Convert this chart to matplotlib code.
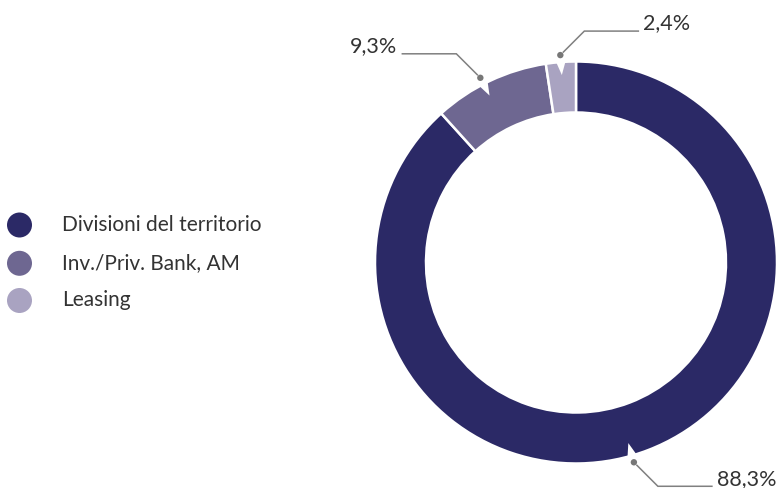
import numpy as np
import matplotlib
matplotlib.use("Agg")
import matplotlib.pyplot as plt
from matplotlib.patches import Circle, Polygon

# Segment data
categories = ["Divisioni del territorio", "Inv./Priv. Bank, AM", "Leasing"]
shares = [88.3, 9.3, 2.4]
value_labels = ["88,3%", "9,3%", "2,4%"]
colors = ["#2b2966", "#6e6791", "#a9a3c1"]

W, H = 783, 488
fig = plt.figure(figsize=(W / 100, H / 100), dpi=100)
ax = fig.add_axes([0, 0, 1, 1])

plt.rcParams["font.family"] = ["Lato", "DejaVu Sans"]
text_color = "#333333"
line_color = "#808080"

cx, cy = 576, H - 262.5
R, ring = 201, 51

wedges, _ = ax.pie(shares, colors=colors, startangle=90, counterclock=False,
                   center=(cx, cy), radius=R, frame=True,
                   wedgeprops=dict(width=ring, edgecolor="white", linewidth=1.8))
ax.set_xlim(0, W)
ax.set_ylim(0, H)
ax.set_aspect("equal")
ax.axis("off")

# angular offsets for the label pointers and the direction of their leaders
angle_shift = [-4.9, 2.0, 0.0]
leader_dir = [(1, -1), (-1, 1), (1, 1)]
diag, horiz, pad = 24, 54, 5

total = sum(shares)
start = 90.0
for i, s in enumerate(shares):
    span = 360.0 * s / total
    mid = np.deg2rad(start - span / 2 + angle_shift[i])
    start -= span
    # white notch at the outer edge
    da = np.deg2rad(1.4)
    pts = [(cx + (R + 1) * np.cos(mid - da), cy + (R + 1) * np.sin(mid - da)),
           (cx + (R + 1) * np.cos(mid + da), cy + (R + 1) * np.sin(mid + da)),
           (cx + (R - 13) * np.cos(mid), cy + (R - 13) * np.sin(mid))]
    ax.add_patch(Polygon(pts, closed=True, facecolor="white", edgecolor="none", zorder=3))
    # pointer dot and leader line
    dx, dy = cx + 208 * np.cos(mid), cy + 208 * np.sin(mid)
    ax.add_patch(Circle((dx, dy), 3.2, facecolor="#777777", edgecolor="none", zorder=4))
    sx, sy = leader_dir[i]
    ex, ey = dx + sx * diag, dy + sy * diag
    hx = ex + sx * horiz
    ax.plot([dx + sx * 3, ex, hx], [dy + sy * 3, ey, ey], color=line_color, lw=1.1,
            solid_joinstyle="miter", zorder=4)
    ax.text(hx + sx * pad, ey + 1.5, value_labels[i], ha="left" if sx > 0 else "right",
            va="baseline", fontsize=15.5, color=text_color)

# legend
legend_y = [225, 263.3, 300.5]
for c, lab, ly in zip(colors, categories, legend_y):
    ax.add_patch(Circle((19.5, H - ly), 12.5, facecolor=c, edgecolor="none"))
    ax.text(62, H - ly, lab, ha="left", va="center", fontsize=15, color=text_color)

fig.savefig("out.png", dpi=100)
